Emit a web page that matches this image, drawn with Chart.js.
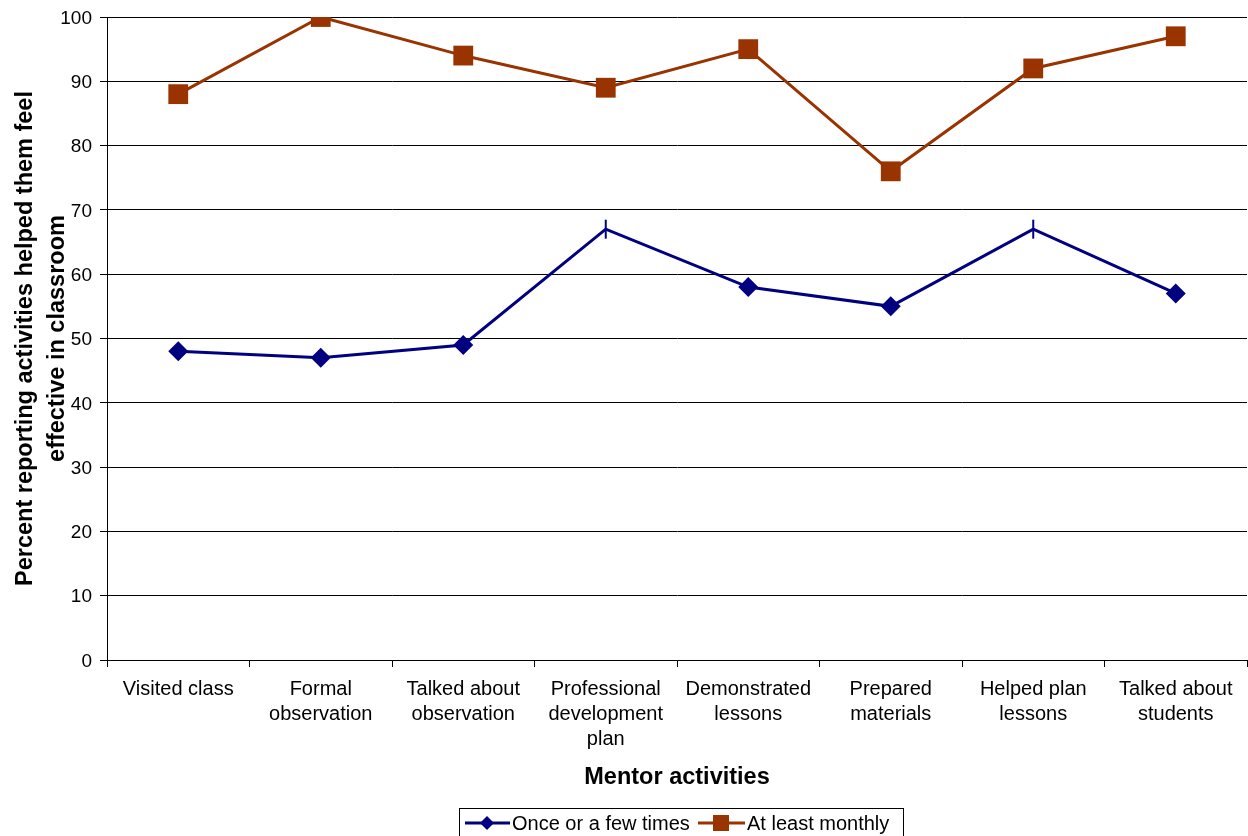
<!DOCTYPE html>
<html>
<head>
<meta charset="utf-8">
<script src="https://cdn.jsdelivr.net/npm/chart.js@4.4.1/dist/chart.umd.min.js"></script>
<style>
  html, body { margin: 0; padding: 0; background: #fff; }
  #wrap { width: 1248px; height: 836px; position: relative; }
</style>
</head>
<body>
<div id="wrap"><canvas id="c" width="1248" height="836"></canvas></div>
<script>
// Mentor activity categories (multi-line tick labels)
const categories = [
  ['Visited class'],
  ['Formal', 'observation'],
  ['Talked about', 'observation'],
  ['Professional', 'development', 'plan'],
  ['Demonstrated', 'lessons'],
  ['Prepared', 'materials'],
  ['Helped plan', 'lessons'],
  ['Talked about', 'students']
];
const onceOrFew = [48, 47, 49, 67, 58, 55, 67, 57];
const atLeastMonthly = [88, 100, 94, 89, 95, 76, 92, 97];
// Points drawn with a vertical dash instead of a diamond
const dashMarked = [false, false, false, true, false, false, true, false];
const yTicks = [0, 10, 20, 30, 40, 50, 60, 70, 80, 90, 100];

const seriesNames = ['Once or a few times', 'At least monthly'];
const BLUE = '#000080';
const RUST = '#993300';
const FONT = '"Liberation Sans", Arial, sans-serif';

const titlesAndLegend = {
  id: 'titlesAndLegend',
  afterDraw(chart) {
    const ctx = chart.ctx;
    const area = chart.chartArea;
    ctx.save();
    // y axis title (two lines, rotated)
    ctx.fillStyle = '#000';
    ctx.font = 'bold 23.5px ' + FONT;
    ctx.textAlign = 'center';
    ctx.textBaseline = 'alphabetic';
    const cy = (area.top + area.bottom) / 2;
    ctx.translate(32, cy);
    ctx.rotate(-Math.PI / 2);
    ctx.fillText('Percent reporting activities helped them feel', 0, 0);
    ctx.fillText('effective in classroom', 0, 32);
    ctx.restore();

    ctx.save();
    // x axis title
    ctx.fillStyle = '#000';
    ctx.font = 'bold 23.5px ' + FONT;
    ctx.textAlign = 'center';
    ctx.textBaseline = 'alphabetic';
    ctx.fillText('Mentor activities', 677, 784);

    // legend box
    ctx.strokeStyle = '#000';
    ctx.lineWidth = 1;
    ctx.strokeRect(459.5, 808.5, 444, 40);
    ctx.font = '20px ' + FONT;
    ctx.textAlign = 'left';
    const ly = 823;
    // item 1
    ctx.strokeStyle = BLUE;
    ctx.lineWidth = 3;
    ctx.beginPath(); ctx.moveTo(465, ly); ctx.lineTo(510, ly); ctx.stroke();
    ctx.fillStyle = BLUE;
    ctx.beginPath();
    ctx.moveTo(487, ly - 7); ctx.lineTo(494, ly); ctx.lineTo(487, ly + 7); ctx.lineTo(480, ly);
    ctx.closePath(); ctx.fill();
    ctx.fillStyle = '#000';
    ctx.fillText(seriesNames[0], 512, ly + 7);
    // item 2
    ctx.strokeStyle = RUST;
    ctx.beginPath(); ctx.moveTo(698, ly); ctx.lineTo(745, ly); ctx.stroke();
    ctx.fillStyle = RUST;
    ctx.fillRect(713, ly - 8, 16, 16);
    ctx.fillStyle = '#000';
    ctx.fillText(seriesNames[1], 747, ly + 7);
    ctx.restore();
  }
};

new Chart(document.getElementById('c'), {
  type: 'line',
  data: {
    labels: categories,
    datasets: [
      {
        label: seriesNames[0],
        data: onceOrFew,
        borderColor: BLUE,
        backgroundColor: BLUE,
        borderWidth: 3,
        tension: 0,
        pointStyle: (c) => dashMarked[c.dataIndex] ? 'line' : 'rectRot',
        rotation: (c) => dashMarked[c.dataIndex] ? 90 : 0,
        pointRadius: (c) => dashMarked[c.dataIndex] ? 9.5 : 10,
        pointBorderWidth: (c) => dashMarked[c.dataIndex] ? 2 : 0,
        pointBorderColor: BLUE,
        pointBackgroundColor: BLUE
      },
      {
        label: seriesNames[1],
        data: atLeastMonthly,
        borderColor: RUST,
        backgroundColor: RUST,
        borderWidth: 3,
        tension: 0,
        pointStyle: 'rect',
        pointRadius: 14,
        pointBorderWidth: 0,
        pointBackgroundColor: RUST
      }
    ]
  },
  options: {
    responsive: false,
    animation: false,
    devicePixelRatio: 1,
    layout: { autoPadding: false, padding: { top: 17, right: 1, left: 0, bottom: 0 } },
    plugins: { legend: { display: false }, tooltip: { enabled: false } },
    scales: {
      x: {
        offset: true,
        grid: { drawOnChartArea: false, drawTicks: true, tickLength: 7, offset: true, color: '#000', lineWidth: 1 },
        border: { display: true, color: '#000', width: 1 },
        ticks: {
          color: '#000',
          font: { family: FONT, size: 20, lineHeight: 1.25 },
          maxRotation: 0, minRotation: 0, autoSkip: false,
          padding: 10
        },
        afterFit(scale) {
          scale.height = 176;
          scale.paddingLeft = 0;
          scale.paddingRight = 0;
        }
      },
      y: {
        min: 0, max: 100,
        afterBuildTicks(scale) { scale.ticks = yTicks.map(v => ({ value: v })); },
        grid: { color: '#000', lineWidth: 1, tickLength: 7 },
        border: { display: true, color: '#000', width: 1 },
        ticks: {
          color: '#000',
          font: { family: FONT, size: 19 },
          padding: 8,
          labelOffset: 1.5
        },
        afterFit(scale) {
          scale.width = 107;
          scale.paddingTop = 0;
          scale.paddingBottom = 0;
        }
      }
    }
  },
  plugins: [titlesAndLegend]
});
</script>
</body>
</html>
